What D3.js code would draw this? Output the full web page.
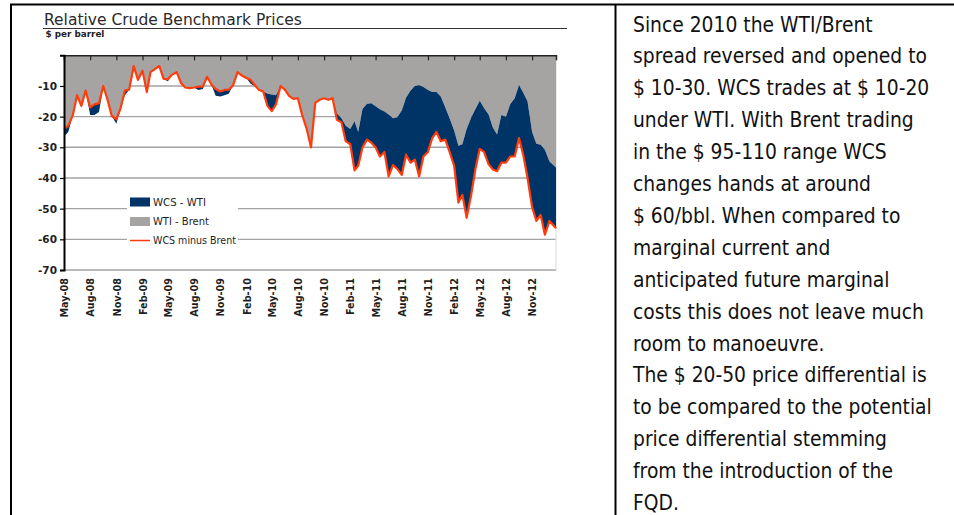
<!DOCTYPE html>
<html><head><meta charset="utf-8">
<script src="https://cdn.jsdelivr.net/npm/d3@7"></script>
<style>
body{margin:0;background:#fff;}
svg{display:block;}
.cf{font-family:'DejaVu Sans',sans-serif;}
</style>
</head><body>
<svg id="c" width="954" height="515"></svg>
<script>
// ---------- data ----------
const title = "Relative Crude Benchmark Prices";
const unitLabel = "$ per barrel";
const seriesNames = ["WCS - WTI", "WTI - Brent", "WCS minus Brent"];
const tickLabels = ["May-08","Aug-08","Nov-08","Feb-09","May-09","Aug-09","Nov-09","Feb-10","May-10","Aug-10","Nov-10","Feb-11","May-11","Aug-11","Nov-11","Feb-12","May-12","Aug-12","Nov-12"];
const yTicks = [-10,-20,-30,-40,-50,-60,-70];
const periodStart = "2008-05-01";
const periodEnd = "2013-01-24";

// semi-monthly observations (1st & 16th of each month, last one = periodEnd)
const wtiBrent = [
 -24,-23,-19.5,-13,-16.5,-11.5,-17,-16,-15.6,-10,
 -14.5,-19.8,-20.8,-17.2,-11.5,-11.2,-3.5,-8,-5,-12,
 -5.5,-4.5,-3.5,-7.7,-7.8,-6.3,-5.5,-9,-10.5,-10.7,
 -10.5,-10.2,-10.2,-7,-9.5,-11,-11.8,-11.3,-11.2,-9.8,
 -5.5,-6.6,-7.4,-8,-9.5,-11.2,-11.8,-12.5,-12.8,-13,
 -10,-11.2,-13.2,-14.2,-14,-19.5,-24,-30,-15.5,-14.5,
 -14,-14.5,-14,-19,-20.5,-23,-24,-21.5,-25,-17.5,
 -15.8,-15.6,-16.6,-17.6,-18.3,-19.3,-20.5,-20.2,-18,-13.8,
 -11.5,-10,-9.8,-10.3,-11.3,-12,-12,-13.4,-17,-20.5,
 -24.5,-29.5,-29,-24,-20.3,-17.5,-14.8,-17.2,-19.3,-23.5,
 -25.8,-19.5,-20,-16,-14,-9.7,-12.2,-15.1,-25,-28.8,
 -29.2,-30.8,-34.6,-36.6,-37.4
];
const wcsWti = [
 -2.5,-2,0,0,0,0,-2.5,-3.5,-2.9,0,
 0,0,-1.5,0,-1.5,0,0,0,0,0,
 0,0,0,0,-0.7,0,0,0,0,0,
 0,-1.1,-0.8,0,0,-2.2,-1.6,-1.7,-1.3,0,
 0,0,0,-1.3,-0.5,0,0,-4,-5.4,-3,
 0,0,0,0,0,0,0,0,0,0,
 0,0,0,-2,-1.3,-5,-5,-16,-11,-12.5,
 -11.7,-12.9,-13.4,-15.4,-13.2,-20.2,-15.3,-16.8,-21,-18.6,
 -23.5,-24,-29.7,-22.7,-20.2,-15,-13,-14.6,-10.5,-11,
 -11.5,-18.5,-16.5,-29,-25.2,-19.5,-15.7,-14.3,-16.2,-13.7,
 -12,-15.5,-15,-17,-19,-17.3,-20.3,-24.9,-24.5,-25.2,
 -22.8,-27.7,-19.4,-19.8,-18.1
];
const wcsMinusBrent = [
 -24,-23,-19.5,-13,-16.5,-11.5,-17,-16,-15.6,-10,
 -14.5,-19.8,-20.8,-17.2,-11.5,-11.2,-3.5,-8,-5,-12,
 -5.5,-4.5,-3.5,-7.7,-7.8,-6.3,-5.5,-9,-10.5,-10.7,
 -10.5,-10.2,-10.2,-7,-9.5,-11,-11.8,-11.3,-11.2,-9.8,
 -5.5,-6.6,-7.4,-8,-9.5,-11.2,-11.8,-16.5,-18.2,-16,
 -10,-11.2,-13.2,-14.2,-14,-19.5,-24,-30,-15.5,-14.5,
 -14,-14.5,-14,-21,-21.8,-28,-29,-37.5,-36,-30,
 -27.5,-28.5,-30,-33,-31.5,-39.5,-35.8,-37,-39,-32.4,
 -35,-34,-39.5,-33,-31.5,-27,-25,-28,-27.5,-31.5,
 -36,-48,-45.5,-53,-45.5,-37,-30.5,-31.5,-35.5,-37.2,
 -37.8,-35,-35,-33,-33,-27,-32.5,-40,-49.5,-54,
 -52,-58.5,-54,-56.4,-55.5
];

const noteLines = [
 "Since 2010 the WTI/Brent",
 "spread reversed and opened to",
 "$ 10-30. WCS trades at $ 10-20",
 "under WTI. With Brent trading",
 "in the $ 95-110 range WCS",
 "changes hands at around",
 "$ 60/bbl. When compared to",
 "marginal current and",
 "anticipated future marginal",
 "costs this does not leave much",
 "room to manoeuvre.",
 "The $ 20-50 price differential is",
 "to be compared to the potential",
 "price differential stemming",
 "from the introduction of the",
 "FQD."
];

// ---------- build ----------
const parse = d3.timeParse("%Y-%m-%d");
const start = parse(periodStart), end = parse(periodEnd);
const dates = [];
for (let m = d3.timeMonth.floor(start); m <= end; m = d3.timeMonth.offset(m, 1)) {
  dates.push(m);
  dates.push(d3.timeDay.offset(m, 15));
}
dates[dates.length - 1] = end;

const rows = dates.map((d, i) => ({date: d, wtiBrent: wtiBrent[i], wcsWti: wcsWti[i], wcsBrent: wcsMinusBrent[i]}));

const svg = d3.select("#c");
const W = 954, H = 515;
const colGray = "#a5a4a3", colNavy = "#003366", colRed = "#ff3c0c", txt = "#1e1e1e";

const x = d3.scaleTime().domain([start, end]).range([64, 556]);
const y = d3.scaleLinear().domain([-70, 0]).range([270, 55.3]);

// text helper: fixed font size, horizontal squeeze to hit a target width
function squeeze(sel, x0, y0, target) {
  const w = sel.node().getComputedTextLength();
  const k = target / w;
  sel.attr("x", 0).attr("y", 0).attr("transform", `translate(${x0},${y0}) scale(${k},1)`);
}

// table frame
const frame = svg.append("g").attr("stroke", "#000").attr("stroke-width", 2);
frame.append("line").attr("x1", 10).attr("x2", W).attr("y1", 4.5).attr("y2", 4.5);
frame.append("line").attr("x1", 11).attr("x2", 11).attr("y1", 4).attr("y2", H);
frame.append("line").attr("x1", 615.5).attr("x2", 615.5).attr("y1", 4).attr("y2", H);

// title
const tt = svg.append("text").attr("class", "cf").attr("font-size", 16.5).attr("fill", "#2a2a2a").text(title);
squeeze(tt, 44, 25, 258);
svg.append("line").attr("x1", 43).attr("x2", 567).attr("y1", 28.5).attr("y2", 28.5)
  .attr("stroke", "#333").attr("stroke-width", 1.2);
const ut = svg.append("text").attr("class", "cf").attr("font-size", 9.5).attr("font-weight", "bold").attr("fill", "#222").text(unitLabel);
squeeze(ut, 45.5, 36.5, 59);

// gridlines
svg.append("g").selectAll("line").data(yTicks).join("line")
  .attr("x1", 64).attr("x2", 556).attr("y1", d => y(d)).attr("y2", d => y(d))
  .attr("stroke", "#a3a3a3").attr("stroke-width", 1.4);
svg.append("line").attr("x1", 556).attr("x2", 556).attr("y1", y(0)).attr("y2", y(-70))
  .attr("stroke", "#d8d8d8").attr("stroke-width", 1);

// stacked areas (WTI-Brent from 0, WCS-WTI stacked beneath)
const stack = d3.stack().keys(["wtiBrent", "wcsWti"]);
const layers = stack(rows);
const area = d3.area().x(d => x(d.data.date)).y0(d => y(d[0])).y1(d => y(d[1]));
svg.append("g").selectAll("path").data(layers).join("path")
  .attr("d", area).attr("fill", (d, i) => i === 0 ? colGray : colNavy);

// red line
const line = d3.line().x(d => x(d.date)).y(d => y(d.wcsBrent));
svg.append("path").datum(rows).attr("d", line).attr("fill", "none")
  .attr("stroke", colRed).attr("stroke-width", 2.2).attr("stroke-linejoin", "round");

// axes
const tickParse = d3.timeParse("%b-%y");
const tickDates = tickLabels.map(t => tickParse(t));

const topAx = svg.append("g").attr("transform", `translate(0,${y(0)})`)
  .call(d3.axisTop(x).tickValues(tickDates).tickSize(-5).tickFormat(""));
topAx.select(".domain").attr("stroke", "#222").attr("stroke-width", 1.5);
topAx.selectAll(".tick line").attr("stroke", "#222").attr("stroke-width", 1.2);

const botAx = svg.append("g").attr("transform", `translate(0,270)`)
  .call(d3.axisBottom(x).tickValues(tickDates).tickSize(0).tickFormat((d, i) => tickLabels[i]));
botAx.select(".domain").remove();
botAx.selectAll("text").attr("class", "cf").attr("font-family", null)
  .attr("font-size", 10.5).attr("fill", txt).attr("font-weight", 600)
  .attr("transform", "rotate(-90) scale(0.92,1)").attr("text-anchor", "end")
  .attr("x", -8.7).attr("y", 0).attr("dy", "0.35em");

const leftAx = svg.append("g").attr("transform", "translate(64,0)")
  .call(d3.axisLeft(y).tickValues(yTicks).tickSize(4).tickPadding(3).tickFormat(d => String(d)));
leftAx.select(".domain").attr("stroke", "#000").attr("stroke-width", 2);
leftAx.selectAll(".tick line").attr("stroke", "#000").attr("stroke-width", 1.2);
leftAx.selectAll("text").attr("class", "cf").attr("font-family", null)
  .attr("font-size", 10.5).attr("fill", txt).attr("font-weight", 600);

// legend
const lg = svg.append("g");
lg.append("rect").attr("x", 127).attr("y", 192).attr("width", 111).attr("height", 58).attr("fill", "#fff");
const items = [
  {name: seriesNames[0], type: "box", color: colNavy, cy: 202},
  {name: seriesNames[1], type: "box", color: colGray, cy: 221.5},
  {name: seriesNames[2], type: "line", color: colRed, cy: 240.5}
];
const legendWidths = [53, 56, 83];
items.forEach((it, i) => {
  if (it.type === "box") lg.append("rect").attr("x", 130).attr("y", it.cy - 4.5).attr("width", 20).attr("height", 9).attr("fill", it.color);
  else lg.append("line").attr("x1", 130).attr("x2", 150).attr("y1", it.cy).attr("y2", it.cy).attr("stroke", it.color).attr("stroke-width", 1.5);
  const t = lg.append("text").attr("class", "cf").attr("font-size", 10.5).attr("dy", "0.35em")
    .attr("fill", txt).text(it.name);
  squeeze(t, 153, it.cy, legendWidths[i]);
});

// right-hand note
const note = svg.append("g").attr("class", "cf").attr("fill", "#111");
const noteSize = 20.5;
const lines = note.selectAll("text").data(noteLines).join("text")
  .attr("font-size", noteSize).text(d => d);
const refW = lines.filter((d, i) => i === 9).node().getComputedTextLength();
const kx = 291 / refW;
lines.attr("transform", (d, i) => `translate(633,${31.5 + i * 31.9}) scale(${kx},1)`);
</script>
</body></html>
